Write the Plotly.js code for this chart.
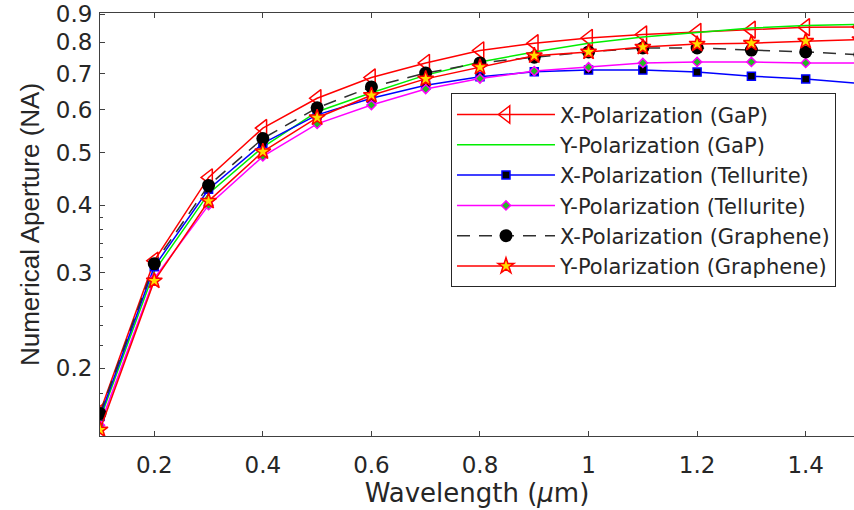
<!DOCTYPE html>
<html>
<head>
<meta charset="utf-8">
<script src="https://cdn.plot.ly/plotly-3.0.1.min.js"></script>
<style>
  html, body { margin: 0; padding: 0; background: #ffffff; }
  #chart { width: 854px; height: 510px; }
</style>
</head>
<body>
<div id="chart"></div>
<script>
// Wavelength (µm)
const wavelength = [0.1, 0.2, 0.3, 0.4, 0.5, 0.6, 0.7, 0.8, 0.9, 1.0, 1.1, 1.2, 1.3, 1.4, 1.5];

// Numerical aperture values
const xPolGaP       = [0.166, 0.316, 0.450, 0.555, 0.630, 0.688, 0.732, 0.772, 0.796, 0.814, 0.826, 0.835, 0.843, 0.852, 0.853];
const yPolGaP       = [0.161, 0.302, 0.420, 0.512, 0.595, 0.645, 0.695, 0.735, 0.767, 0.796, 0.817, 0.833, 0.849, 0.858, 0.862];
const xPolTellurite = [0.163, 0.308, 0.428, 0.520, 0.587, 0.630, 0.666, 0.690, 0.705, 0.710, 0.710, 0.704, 0.692, 0.684, 0.671];
const yPolTellurite = [0.157, 0.293, 0.400, 0.492, 0.565, 0.612, 0.655, 0.685, 0.707, 0.719, 0.732, 0.735, 0.735, 0.732, 0.732];
const xPolGraphene  = [0.165, 0.312, 0.435, 0.531, 0.605, 0.661, 0.701, 0.732, 0.750, 0.767, 0.780, 0.780, 0.773, 0.767, 0.758];
const yPolGraphene  = [0.154, 0.290, 0.407, 0.502, 0.580, 0.638, 0.684, 0.719, 0.755, 0.767, 0.783, 0.793, 0.796, 0.803, 0.808];

const seriesNames = [
  'X-Polarization (GaP)',
  'Y-Polarization (GaP)',
  'X-Polarization (Tellurite)',
  'Y-Polarization (Tellurite)',
  'X-Polarization (Graphene)',
  'Y-Polarization (Graphene)'
];

// Axis ticks
const xTickVals = [0.2, 0.4, 0.6, 0.8, 1.0, 1.2, 1.4];
const xTickText = ['0.2', '0.4', '0.6', '0.8', '1', '1.2', '1.4'];
const yTickVals = [0.2, 0.3, 0.4, 0.5, 0.6, 0.7, 0.8, 0.9];
const yTickText = ['0.2', '0.3', '0.4', '0.5', '0.6', '0.7', '0.8', '0.9'];
const yMinorVals = [0.16, 0.18, 0.22, 0.24, 0.26, 0.28, 0.32, 0.34, 0.36, 0.38];

const FONT_WIDE = '"DejaVu Sans", Verdana, sans-serif';
const FONT_ARIAL = '"Liberation Sans", Arial, sans-serif';
const TXT = '#262626';
const AX = '#404040';

const traces = [
  {
    x: wavelength, y: xPolGaP, name: seriesNames[0], mode: 'lines+markers',
    line: { color: '#ff0000', width: 1.5 },
    marker: { symbol: 'triangle-left-open', size: 15, color: '#ff0000', line: { color: '#ff0000', width: 1.5 } }
  },
  {
    x: wavelength, y: yPolGaP, name: seriesNames[1], mode: 'lines',
    line: { color: '#00ee00', width: 1.5 }
  },
  {
    x: wavelength, y: xPolTellurite, name: seriesNames[2], mode: 'lines+markers',
    line: { color: '#0000ff', width: 1.5 },
    marker: { symbol: 'square', size: 8, color: '#000000', line: { color: '#0000ff', width: 1.5 } }
  },
  {
    x: wavelength, y: yPolTellurite, name: seriesNames[3], mode: 'lines+markers',
    line: { color: '#ff00ff', width: 1.5 },
    marker: { symbol: 'diamond', size: 7, color: '#22bb22', line: { color: '#ff00ff', width: 1.5 } }
  },
  {
    x: wavelength, y: xPolGraphene, name: seriesNames[4], mode: 'lines+markers',
    line: { color: '#303030', width: 1.5, dash: '13px,9px' },
    marker: { symbol: 'circle', size: 13, color: '#000000' }
  },
  {
    x: wavelength, y: yPolGraphene, name: seriesNames[5], mode: 'lines+markers',
    line: { color: '#ff0000', width: 1.5 },
    marker: { symbol: 'star', size: 12, color: '#ffdd00', line: { color: '#ff0000', width: 1.5 } }
  }
];

const layout = {
  width: 854,
  height: 510,
  margin: { l: 100, r: 0, t: 13, b: 74 },
  paper_bgcolor: '#ffffff',
  plot_bgcolor: '#ffffff',
  font: { family: FONT_WIDE, color: TXT, size: 22 },
  showlegend: true,
  legend: {
    x: 0.4655, y: 0.81, xanchor: 'left', yanchor: 'top',
    bgcolor: '#ffffff', bordercolor: '#262626', borderwidth: 1,
    font: { family: FONT_WIDE, size: 21, color: TXT },
    itemwidth: 98,
    traceorder: 'normal'
  },
  xaxis: {
    range: [0.1, 1.489],
    tickmode: 'array', tickvals: xTickVals, ticktext: xTickText,
    ticks: 'inside', ticklen: 5, tickwidth: 1, tickcolor: AX,
    showline: true, linecolor: AX, linewidth: 1, mirror: 'ticks',
    showgrid: false, zeroline: false,
    ticklabelstandoff: 8,
    tickfont: { family: FONT_WIDE, size: 23, color: TXT },
    title: { text: 'Wavelength (<i>μ</i>m)', font: { family: FONT_WIDE, size: 26, color: TXT }, standoff: 6 }
  },
  yaxis: {
    type: 'log',
    range: [Math.log10(0.15), Math.log10(0.905)],
    tickmode: 'array', tickvals: yTickVals, ticktext: yTickText,
    ticks: 'inside', ticklen: 5, tickwidth: 1, tickcolor: AX,
    minor: { tickmode: 'array', tickvals: yMinorVals, ticks: 'inside', ticklen: 3, tickcolor: AX, showgrid: false },
    showline: true, linecolor: AX, linewidth: 1, mirror: false,
    showgrid: false, zeroline: false,
    ticklabelstandoff: 2,
    tickfont: { family: FONT_WIDE, size: 23, color: TXT },
    title: { text: 'Numerical Aperture (NA)', font: { family: FONT_ARIAL, size: 26, color: TXT }, standoff: 8 }
  }
};

Plotly.newPlot('chart', traces, layout, { displayModeBar: false, staticPlot: true });
</script>
</body>
</html>
